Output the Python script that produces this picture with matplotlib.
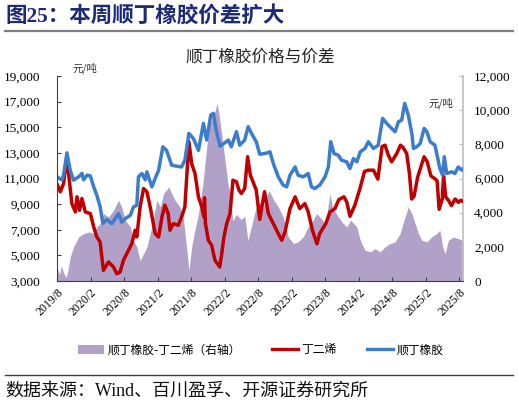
import matplotlib
matplotlib.use('Agg')
import matplotlib.pyplot as plt
import pandas as pd
from matplotlib.patches import Patch
from matplotlib.lines import Line2D

plt.rcParams['font.family'] = ['Liberation Serif', 'Noto Sans CJK SC', 'DejaVu Sans']

# 顺丁橡胶 (left axis)
br_dates = ['2019-08-04','2019-08-28','2019-09-06','2019-09-24','2019-10-12','2019-10-30','2019-11-27','2019-12-15','2019-12-24',
            '2020-01-12','2020-01-30','2020-02-17','2020-03-05','2020-03-23','2020-04-07','2020-04-29','2020-05-26','2020-06-13',
            '2020-07-01','2020-07-19','2020-08-07','2020-09-04','2020-09-21','2020-10-09','2020-10-18','2020-11-06','2020-11-24',
            '2020-12-03','2020-12-30','2021-01-17','2021-02-05','2021-02-28','2021-03-20','2021-04-17','2021-05-14','2021-06-10',
            '2021-06-28','2021-07-20','2021-08-13','2021-09-10','2021-10-07','2021-10-25','2021-11-16','2021-11-30','2021-12-18',
            '2022-01-06','2022-01-27','2022-02-20','2022-03-08','2022-04-05','2022-04-23','2022-05-20','2022-06-08','2022-07-01',
            '2022-07-22','2022-08-10','2022-09-08','2022-10-05','2022-10-23','2022-11-19','2022-12-16','2023-01-04','2023-01-22',
            '2023-02-19','2023-03-07','2023-04-04','2023-05-01','2023-05-19','2023-06-06','2023-07-03','2023-08-01','2023-08-19',
            '2023-09-01','2023-09-19','2023-10-12','2023-10-30','2023-11-27','2023-12-15','2024-01-03','2024-01-21','2024-02-09',
            '2024-03-06','2024-03-24','2024-04-21','2024-05-17','2024-06-10','2024-07-02','2024-07-29','2024-08-17','2024-09-04',
            '2024-09-22','2024-10-08','2024-10-28','2024-11-16','2024-11-25','2024-12-13','2025-01-01','2025-01-22','2025-02-06',
            '2025-02-24','2025-03-22','2025-04-09','2025-04-18','2025-05-03','2025-05-12','2025-05-25','2025-06-21','2025-07-09',
            '2025-07-27','2025-08-15','2025-08-22']
br_vals = [11100,10900,11300,13000,11650,10870,11130,11400,10900,
           11260,11200,10350,9700,8800,7500,7800,7480,7870,
           8260,7600,7870,8130,8785,8900,11130,11390,10900,
           11520,10350,11000,11650,13475,13200,12040,11960,11900,
           12430,14520,14130,13200,15300,14000,15950,16080,14650,
           13530,13740,14000,13475,14650,13600,14000,15040,14390,
           13870,12900,12950,13080,12170,11130,10480,10350,11260,
           11900,11260,11130,11390,10350,10220,10480,11130,11900,
           13870,12950,12820,12430,12300,11780,12560,12300,13080,
           13345,13870,13345,13600,15690,15300,14910,14650,15430,
           15560,16860,15950,14520,13345,13475,13740,14910,14650,
           13870,13600,12400,11780,11260,12700,11390,11520,11390,
           11900,11650,11750]

# 丁二烯 (left axis)
bd_dates = ['2019-08-04','2019-08-19','2019-09-06','2019-09-21','2019-10-03','2019-10-21','2019-11-09','2019-11-18','2019-12-02',
            '2019-12-15','2020-01-02','2020-01-30','2020-02-17','2020-03-05','2020-03-23','2020-04-10','2020-05-08','2020-06-04',
            '2020-06-22','2020-07-10','2020-07-28','2020-08-25','2020-09-12','2020-09-30','2020-10-09','2020-10-27','2020-11-15',
            '2020-12-03','2020-12-21','2021-01-17','2021-02-05','2021-02-23','2021-03-11','2021-03-29','2021-04-08','2021-04-26',
            '2021-05-23','2021-06-10','2021-06-28','2021-07-20','2021-08-04','2021-08-22','2021-09-10','2021-09-28','2021-10-10',
            '2021-10-13','2021-10-18','2021-11-03','2021-11-21','2021-12-09','2022-01-04','2022-01-15','2022-01-27','2022-02-11',
            '2022-03-01','2022-03-17','2022-04-05','2022-04-19','2022-05-02','2022-05-20','2022-06-05','2022-06-20','2022-07-08',
            '2022-07-22','2022-08-10','2022-09-05','2022-09-26','2022-10-23','2022-11-19','2022-12-08','2022-12-26','2023-01-22',
            '2023-02-19','2023-03-16','2023-04-13','2023-05-01','2023-05-25','2023-06-18','2023-07-03','2023-08-06','2023-08-28',
            '2023-09-24','2023-10-15','2023-11-12','2023-11-27','2023-12-15','2024-01-10','2024-02-07','2024-03-03','2024-03-24',
            '2024-04-21','2024-05-15','2024-06-07','2024-06-23','2024-07-11','2024-07-29','2024-08-26','2024-09-15','2024-09-28',
            '2024-10-19','2024-11-03','2024-11-15','2024-11-28','2024-12-18','2025-01-22','2025-02-08','2025-02-28','2025-03-25',
            '2025-04-03','2025-04-14','2025-05-01','2025-05-08','2025-05-20','2025-06-05','2025-06-20','2025-07-10','2025-07-28',
            '2025-08-10','2025-08-22']
bd_vals = [10480,9960,10610,12430,11390,9040,8390,9570,8520,
           9440,8390,8260,7220,6440,6050,3830,4490,4090,
           3570,3700,4620,5400,5920,6960,6440,8785,10220,
           9960,8785,6700,6440,8000,8915,8260,6960,7480,
           7350,8000,8785,13870,12170,11390,9570,8785,8000,
           9500,7500,6180,5790,4620,4090,5140,6440,7480,
           8260,10870,10740,10090,9830,10220,12700,11260,10610,
           10090,7800,9970,8260,7480,6700,6180,6830,8650,
           9570,8650,9040,8400,6930,5900,6700,7500,8390,
           8650,9350,9570,9180,8050,8900,10200,11550,11650,
           11650,10950,13500,13600,12820,12300,12950,13600,13450,
           12950,11390,9400,9600,11120,12700,12300,11200,10950,
           10800,8600,9400,11200,9560,9270,8880,9400,9140,
           9300,9200]

# 顺丁橡胶-丁二烯 spread (right axis)
sp_dates = ['2019-08-04','2019-08-15','2019-08-25','2019-09-05','2019-09-20','2019-10-01','2019-10-12','2019-10-30','2019-11-27',
            '2019-12-24','2020-01-21','2020-02-17','2020-03-05','2020-03-23','2020-04-10','2020-05-08','2020-06-04','2020-07-01',
            '2020-07-19','2020-08-07','2020-09-04','2020-09-21','2020-10-09','2020-10-27','2020-11-15','2020-12-03','2020-12-30',
            '2021-01-26','2021-02-14','2021-03-04','2021-04-01','2021-04-17','2021-05-05','2021-06-01','2021-06-19','2021-07-07',
            '2021-07-20','2021-08-04','2021-08-22','2021-09-07','2021-10-04','2021-10-25','2021-11-12','2021-12-10','2021-12-20',
            '2021-12-28','2022-01-15','2022-02-02','2022-02-18','2022-03-01','2022-03-16','2022-04-05','2022-05-01','2022-05-20',
            '2022-06-07','2022-07-12','2022-08-01','2022-08-28','2022-09-15','2022-10-01','2022-10-27','2022-11-19','2022-12-16',
            '2023-01-13','2023-02-10','2023-03-07','2023-04-04','2023-05-01','2023-05-28','2023-06-16','2023-07-03','2023-07-20',
            '2023-08-01','2023-08-28','2023-09-10','2023-10-12','2023-11-09','2023-11-27','2023-12-19','2024-01-21','2024-02-09',
            '2024-03-06','2024-04-04','2024-04-30','2024-05-27','2024-06-23','2024-07-20','2024-08-17','2024-09-13','2024-10-10',
            '2024-10-28','2024-11-16','2024-12-04','2024-12-22','2025-01-10','2025-02-06','2025-03-04','2025-04-01','2025-04-18',
            '2025-05-03','2025-05-16','2025-06-03','2025-06-30','2025-07-27','2025-08-22']
sp_vals = [700,400,900,500,200,700,1400,2000,2580,
           2775,2870,2800,3170,3360,3950,3750,4140,4730,
           4340,3560,3170,2380,2000,1200,1600,2000,3170,
           4730,4340,5120,5510,5120,4730,4340,3750,2000,
           600,2000,3000,3750,5680,7840,9190,9960,10400,
           9960,8600,7040,5680,5120,3530,3900,3600,3800,
           2360,3920,4700,4300,4920,5280,4700,4340,3750,
           2580,2190,2290,2580,3170,3560,3950,3750,3560,
           3170,5120,4340,3750,3360,3170,3560,3170,2380,
           1800,1700,1900,1700,2000,2190,2290,2780,3750,
           4340,3950,3360,2780,2380,2290,2580,2780,2970,
           2000,1600,2380,2580,2480,2380]

xtick_labels = ['2019/8', '2020/2', '2020/8', '2021/2', '2021/8', '2022/2', '2022/8',
                '2023/2', '2023/8', '2024/2', '2024/8', '2025/2', '2025/8']
left_ticks = [3000, 5000, 7000, 9000, 11000, 13000, 15000, 17000, 19000]
right_ticks = [0, 2000, 4000, 6000, 8000, 10000, 12000]

C_BLUE = '#3B7DCC'
C_RED = '#C00000'
C_PURPLE = '#B1A1C8'
C_TITLE = '#1C2B78'

fig = plt.figure(figsize=(5.19, 4.05), dpi=100)
fig.patch.set_facecolor('white')

ax = fig.add_axes([57/519, 1-281/405, (463-57)/519, (281-76)/405])
ax2 = ax.twinx()
ax.set_zorder(ax2.get_zorder() + 1)
ax.patch.set_visible(False)

sp_x = pd.to_datetime(sp_dates)
ax2.fill_between(sp_x, sp_vals, 0, color=C_PURPLE, linewidth=0)
ax.plot(pd.to_datetime(bd_dates), bd_vals, color=C_RED, linewidth=2.5, solid_joinstyle='round')
ax.plot(pd.to_datetime(br_dates), br_vals, color=C_BLUE, linewidth=2.5, solid_joinstyle='round')

x0 = pd.Timestamp('2019-08-01')
x1 = pd.Timestamp('2025-08-22')
ax.set_xlim(x0, x1)
ax.set_ylim(3000, 19000)
ax2.set_ylim(0, 12000)

ax.set_yticks(left_ticks)
ax.set_yticklabels([f'{v:,}' for v in left_ticks])
ax2.set_yticks(right_ticks)
ax2.set_yticklabels([f'{v:,}' for v in right_ticks])

tick_pos = [pd.Timestamp(int(s.split('/')[0]), int(s.split('/')[1]), 1) for s in xtick_labels]
ax.set_xticks(tick_pos)
ax.set_xticklabels(xtick_labels, rotation=45, ha='right', va='top', rotation_mode='anchor')

for a in (ax, ax2):
    a.spines['top'].set_visible(False)
ax.spines['left'].set_color('#404040')
ax.spines['bottom'].set_color('#404040')
ax.spines['right'].set_visible(False)
ax2.spines['left'].set_visible(False)
ax2.spines['bottom'].set_visible(False)
ax2.spines['right'].set_color('#BFBFBF')
ax2.spines['right'].set_linewidth(1.2)

ax.tick_params(axis='y', direction='in', length=3, color='#404040', labelsize=9.5, pad=12)
ax.tick_params(axis='x', direction='in', length=3, color='#404040', labelsize=8.5, pad=4)
ax2.tick_params(axis='y', direction='in', length=3, color='#BFBFBF', labelsize=9.5, pad=8)
for lab in ax.get_yticklabels() + ax2.get_yticklabels() + ax.get_xticklabels():
    lab.set_family(['Liberation Serif'])

# unit labels
fig.text(72/519, 1-68/405, '元/吨', fontsize=7.5, family=['Noto Sans CJK SC'], va='center', ha='left', color='#333333')
fig.text(428/519, 1-103/405, '元/吨', fontsize=7.5, family=['Noto Sans CJK SC'], va='center', ha='left', color='#333333')

# chart title
fig.text(260/519, 1-57/405, '顺丁橡胶价格与价差', fontsize=12, family=['Noto Sans CJK SC'],
         ha='center', va='center', color='#222222')

# header
fig.text(5/519, 1-16/405, '图25：本周顺丁橡胶价差扩大', fontsize=15.5, fontweight='bold',
         family=['Liberation Serif', 'Noto Sans CJK SC'], ha='left', va='center', color=C_TITLE)
fig.add_artist(Line2D([5/519, 513/519], [1-31/405, 1-31/405], color='#7F7F7F', linewidth=1.6))

# legend
handles = [Patch(facecolor=C_PURPLE, edgecolor='none'),
           Line2D([0], [0], color=C_RED, linewidth=2.4),
           Line2D([0], [0], color=C_BLUE, linewidth=2.4)]
labels = ['顺丁橡胶-丁二烯（右轴）', '丁二烯', '顺丁橡胶']
fig.legend(handles, labels, loc='center', bbox_to_anchor=(261/519, 1-350/405), ncol=3, frameon=False,
           prop={'family': ['Noto Sans CJK SC'], 'size': 8.5}, handlelength=2.2, handleheight=0.8,
           handletextpad=0.3, columnspacing=2.6)

# footer
fig.add_artist(Line2D([5/519, 513/519], [1-375/405, 1-375/405], color='#404040', linewidth=1.0))
fig.text(5/519, 1-391/405, '数据来源：Wind、百川盈孚、开源证券研究所', fontsize=13,
         family=['Liberation Serif', 'Noto Sans CJK SC'], ha='left', va='center', color='#111111')

fig.savefig('out.png', dpi=100, facecolor='white')
